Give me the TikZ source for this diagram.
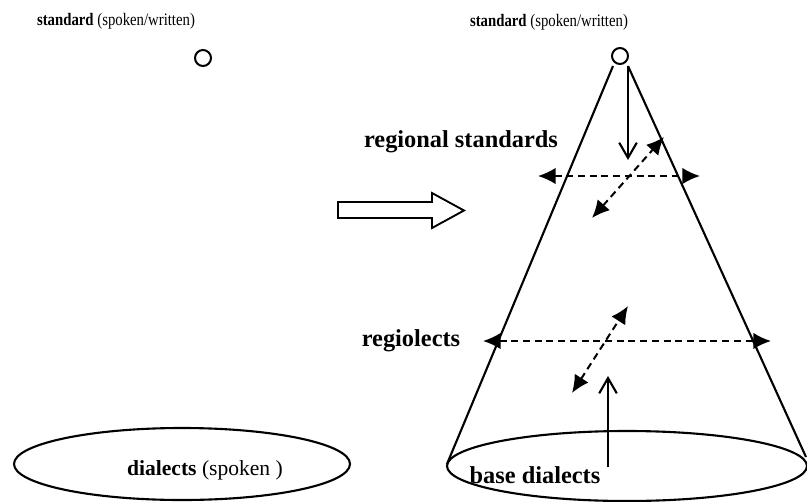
\documentclass[tikz,border=0pt]{standalone}
\usepackage{fontspec}
\setmainfont{Liberation Serif}
\usetikzlibrary{arrows.meta}
\newcommand{\narrow}[1]{\scalebox{0.84}[1]{#1}}
\begin{document}
\begin{tikzpicture}[x=0.03cm,y=-0.03cm,
  every node/.style={inner sep=0pt,outer sep=0pt},
  titlefont/.style={font=\fontsize{15}{17}\selectfont},
  labelfont/.style={font=\fontsize{20.8}{24}\selectfont\bfseries},
  dialfont/.style={font=\fontsize{18.4}{22}\selectfont},
  pt/.style={circle,draw,line width=1.7pt,minimum size=16*0.03cm},
  edge/.style={line width=1.8pt},
  openarrow/.style={line width=1.8pt,-{Straight Barb[length=13pt,width=15pt,line width=1.8pt]}},
  dasharrow/.style={line width=1.7pt,dash pattern=on 6pt off 4pt,
    {Latex[length=15pt,width=14pt]}-{Latex[length=15pt,width=14pt]}}]
\useasboundingbox (0,0) rectangle (807,502);

% left side: the standard above the dialects
\node[titlefont] (ltitle) at (116,21) {\narrow{\textbf{standard} (spoken/written)}};
\node[pt] (lstd) at (203,58) {};
\draw[edge] (182,464) ellipse [x radius=168, y radius=36];
\node[dialfont] (ldial) at (205,470) {\textbf{dialects} (spoken )};

% transition arrow
\draw[line width=1.6pt] (338,202) -- (432,202) -- (432,193) -- (464,210.5)
  -- (432,228) -- (432,218) -- (338,218) -- cycle;

% right side: the cone
\node[titlefont] (rtitle) at (549,22) {\narrow{\textbf{standard} (spoken/written)}};
\node[pt] (apex) at (620,56) {};
\coordinate (al) at (613,66);
\coordinate (ar) at (628,66);
\coordinate (bl) at (447,464);
\coordinate (br) at (806,457);
\draw[edge] (al) -- (bl);
\draw[edge] (ar) -- (br);
\draw[edge] (627,466) ellipse [x radius=180, y radius=35];

\node[labelfont] (rstd) at (461,142) {regional standards};
\node[labelfont] (rlect) at (411,341) {regiolects};
\node[labelfont] (base) at (535,475) {base dialects};

% influence from the standard downwards
\coordinate (dtop) at (628,66);
\coordinate (dtip) at (628,160);
\draw[openarrow] (dtop) -- (dtip);

% influence from the base dialects upwards
\coordinate (ubot) at (608,467);
\coordinate (utip) at (608,376);
\draw[openarrow] (ubot) -- (utip);

% horizontal and diagonal exchange
\coordinate (rsl) at (538,176);
\coordinate (rsr) at (700,176);
\draw[dasharrow] (rsl) -- (rsr);
\coordinate (rsd1) at (592,218);
\coordinate (rsd2) at (664,137);
\draw[dasharrow] (rsd1) -- (rsd2);

\coordinate (rll) at (483,341);
\coordinate (rlr) at (771,341);
\draw[dasharrow] (rll) -- (rlr);
\coordinate (rld1) at (572,393);
\coordinate (rld2) at (628,306);
\draw[dasharrow] (rld1) -- (rld2);
\end{tikzpicture}
\end{document}
